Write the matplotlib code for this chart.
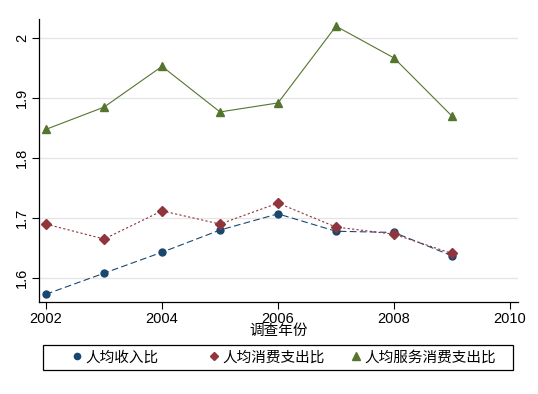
import matplotlib
matplotlib.use("Agg")
import matplotlib.pyplot as plt
from matplotlib.patches import Rectangle

plt.rcParams['font.family'] = ['Liberation Sans', 'Noto Sans CJK SC', 'DejaVu Sans']

years = [2002, 2003, 2004, 2005, 2006, 2007, 2008, 2009]
income = [1.573, 1.608, 1.643, 1.680, 1.707, 1.678, 1.676, 1.637]
consume = [1.690, 1.665, 1.712, 1.690, 1.725, 1.685, 1.673, 1.641]
service = [1.848, 1.885, 1.953, 1.877, 1.892, 2.020, 1.967, 1.870]
xticks = [2002, 2004, 2006, 2008, 2010]
yticks = [1.6, 1.7, 1.8, 1.9, 2.0]
ylabels = ["1.6", "1.7", "1.8", "1.9", "2"]

W, H = 538, 394
fig = plt.figure(figsize=(W/100, H/100), dpi=100)
ax = fig.add_axes([39/W, 1 - 302/H, (518 - 39)/W, (302 - 19)/H])

l1, = ax.plot(years, income, color="#1a476f", lw=0.8, ls=(0, (6, 3)),
              marker="o", ms=5, label="人均收入比")
l2, = ax.plot(years, consume, color="#90353b", lw=0.8, ls=(0, (2, 2)),
              marker="D", ms=5, label="人均消费支出比")
l3, = ax.plot(years, service, color="#55752f", lw=0.8, ls="-",
              marker="^", ms=6, label="人均服务消费支出比")

ax.set_xlim(2002 - 7/58, 2010 + 8/58)
ax.set_ylim(1.56, 2.032)
ax.set_xticks(xticks)
ax.set_xticklabels([str(x) for x in xticks], fontsize=10.5)
ax.set_yticks(yticks)
ax.set_yticklabels(ylabels, fontsize=10.5, rotation=90, va="center")
ax.tick_params(direction="out", length=5, width=0.8, color="black", pad=2)
ax.grid(axis="y", color="#e5e5e5", lw=0.9)
ax.set_axisbelow(True)
for s in ("top", "right"):
    ax.spines[s].set_visible(False)
for s in ("left", "bottom"):
    ax.spines[s].set_linewidth(0.9)
ax.set_xlabel("调查年份", fontsize=10.5, labelpad=-1)

# legend: frame box with three equal-width columns
fig.patches.append(Rectangle((43/W, 1 - 370/H), 470/W, 25/H, transform=fig.transFigure,
                             fill=False, edgecolor="black", lw=0.9))
for line, x in zip([l1, l2, l3], [72.6, 209.6, 351.6]):
    leg = fig.legend(handles=[line], loc="center left", bbox_to_anchor=(x/W, 1 - 357.5/H),
                     frameon=False, borderaxespad=0, borderpad=0, fontsize=10.5,
                     handlelength=0.6, handletextpad=0.3, markerscale=0.9)
    for h in leg.legend_handles:
        h.set_linestyle("")

fig.savefig("out.png", dpi=100)
